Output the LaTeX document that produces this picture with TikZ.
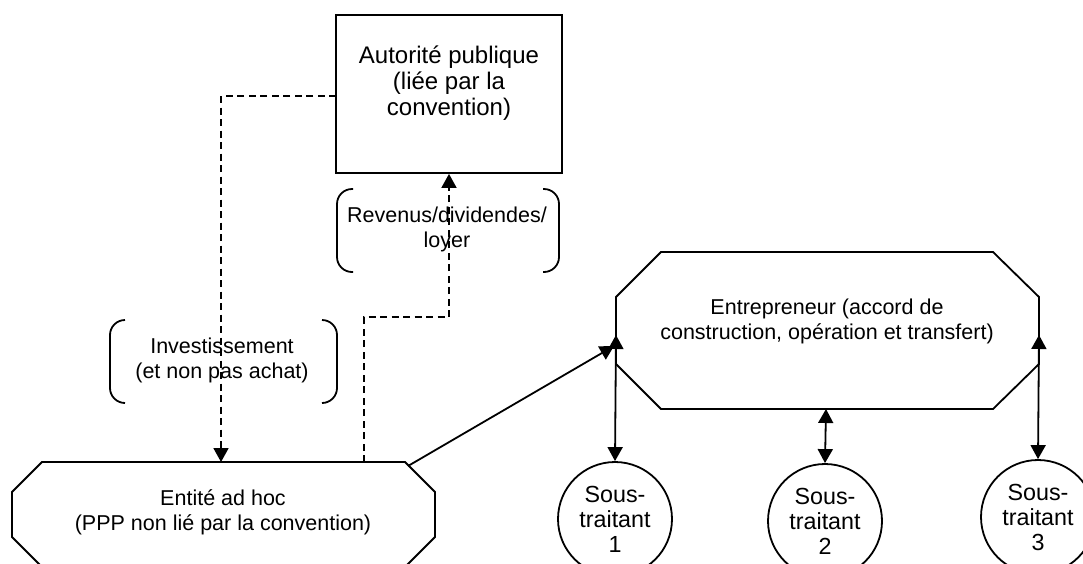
\documentclass[tikz,border=0pt]{standalone}
\usepackage{fontspec}
\setmainfont{Liberation Sans}
\usetikzlibrary{arrows.meta}
\begin{document}
\begin{tikzpicture}[x=1pt,y=-1pt,
  line width=1.8pt,
  lbl/.style={align=center,font=\fontsize{21.5}{25}\selectfont,inner sep=0pt},
  dsh/.style={dash pattern=on 7pt off 4.5pt},
  tip/.style={-{Triangle[length=14pt,width=15pt]}},
  dtip/.style={{Triangle[length=14pt,width=15pt]}-{Triangle[length=14pt,width=15pt]}},
  subc/.style={circle,draw,minimum size=114pt,inner sep=0pt,align=center,font=\fontsize{23.3}{25}\selectfont},
  brk/.style={rounded corners=15pt}]
\useasboundingbox (0,0) rectangle (1083,563);
\clip (0,0) rectangle (1083,563);

% Autorite publique
\node[draw,rectangle,minimum width=226pt,minimum height=158pt,inner sep=0pt] (ap) at (449,94) {};
\node[lbl,font=\fontsize{24}{26}\selectfont] (apt) at (449,83) {Autorité publique\\(liée par la\\convention)};

% Entite ad hoc octagon
\draw (42,462) -- (405,462) -- (435,492) -- (435,537) -- (405,567) -- (42,567) -- (12,537) -- (12,492) -- cycle;
\node[lbl] (ent) at (223,512) {Entité ad hoc\\(PPP non lié par la convention)};

% Entrepreneur octagon
\draw (661,252) -- (993,252) -- (1039,297) -- (1039,364) -- (993,409) -- (661,409) -- (616,364) -- (616,297) -- cycle;
\node[lbl] (entr) at (827,321) {Entrepreneur (accord de\\construction, opération et transfert)};

% Sub-contractors
\node[subc] (s1) at (615,519) {Sous-\\traitant\\1};
\node[subc] (s2) at (825,521) {Sous-\\traitant\\2};
\node[subc] (s3) at (1038,517) {Sous-\\traitant\\3};

% Brackets and labels
\draw[brk] (353,189) -- (337,189) -- (337,272) -- (353,272);
\draw[brk] (543,189) -- (559,189) -- (559,272) -- (543,272);
\node[lbl] (rev) at (447,229) {Revenus/dividendes/\\loyer};
\draw[brk] (125,320) -- (110,320) -- (110,403) -- (125,403);
\draw[brk] (322,320) -- (337,320) -- (337,403) -- (322,403);
\node[lbl] (inv) at (222,360) {Investissement\\(et non pas achat)};

% connection points
\coordinate (a1) at (336,96);
\coordinate (e1) at (221,462);
\coordinate (e2) at (364,462);
\coordinate (e3) at (408,466);
\coordinate (c0) at (614,346);
\coordinate (c1) at (616,335);
\coordinate (c2) at (826,409);
\coordinate (c3) at (1039,335);

% connectors
\draw[dsh,tip] (a1) -| (e1);
\draw[dsh,tip] (e2) -- ++(0,-145) -| (ap.south);
\draw[tip] (e3) -- (c0);
\draw[dtip] (c1) -- (s1.north);
\draw[dtip] (c2) -- (s2.north);
\draw[dtip] (c3) -- (s3.north);
\end{tikzpicture}
\end{document}
